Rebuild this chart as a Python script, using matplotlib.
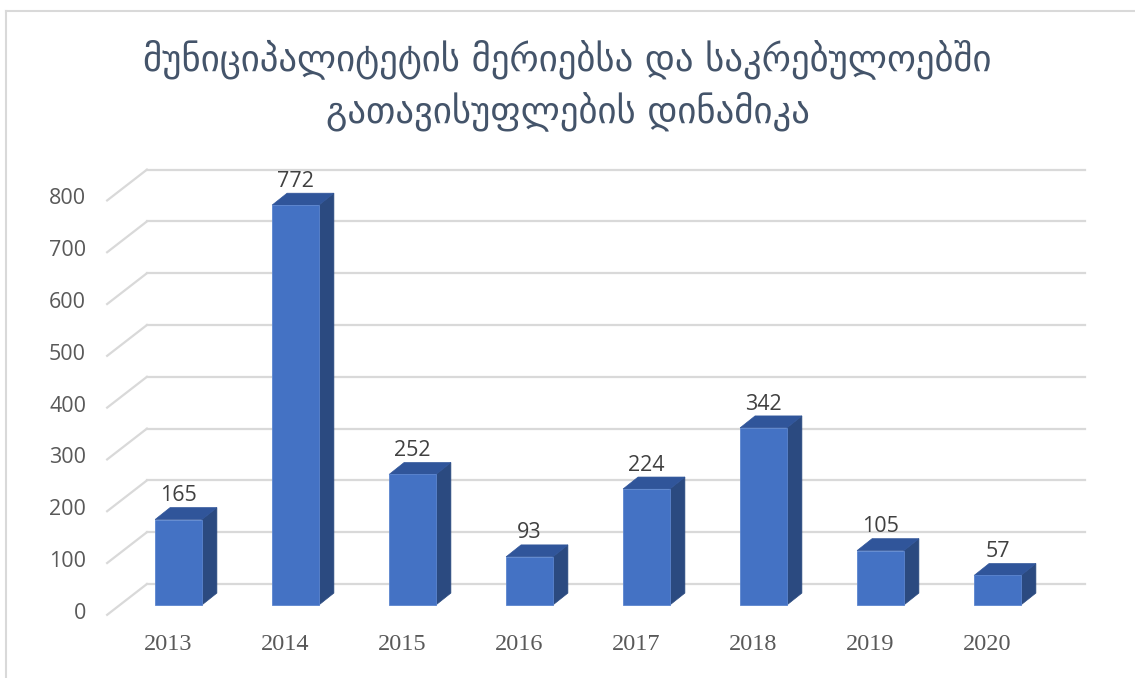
import matplotlib.pyplot as plt
from matplotlib.patches import Polygon
from matplotlib.lines import Line2D

years = ['2013', '2014', '2015', '2016', '2017', '2018', '2019', '2020']
values = [165, 772, 252, 93, 224, 342, 105, 57]
yticks = [0, 100, 200, 300, 400, 500, 600, 700, 800]
title = 'მუნიციპალიტეტის მერიებსა და საკრებულოებში\nგათავისუფლების დინამიკა'

# colours
front_c = '#4472C4'
side_c = '#2B4A80'
top_c = '#30559A'
grid_c = '#D9D9D9'

# fake 3d geometry (category units / value units)
bar_w = 0.4
dx, dy = 0.128, 23        # bar depth
wall_dy = 40.5            # back wall offset from bar plane
front_dx, front_dy = -0.61, -19  # front floor edge offset

fig = plt.figure(figsize=(11.35, 6.78), dpi=100)
ax = fig.add_axes([100 / 1135, 48 / 678, 1000 / 1135, 480 / 678])
ax.set_xlim(-0.671, 7.876)
ax.set_ylim(-48.3, 878.4)
ax.axis('off')

# gridlines: back wall + diagonal on the left side wall
for v in yticks:
    ax.plot([front_dx, -0.27], [v + front_dy, v + wall_dy], color=grid_c, lw=1.6, zorder=1)
    ax.plot([-0.27, 7.75], [v + wall_dy, v + wall_dy], color=grid_c, lw=1.6, zorder=1)
    ax.text(-0.79, v - 16, str(v), ha='right', va='center', fontsize=15.5,
            family='Open Sans', color='#595959')

# bars
for i, v in enumerate(values):
    x0, x1 = i - bar_w / 2, i + bar_w / 2
    ax.bar(i, v, width=bar_w, color=front_c, edgecolor='#5B85CF', linewidth=0.6, zorder=3)
    side = Polygon([(x1, 0), (x1 + dx, dy), (x1 + dx, v + dy), (x1, v)],
                   closed=True, facecolor=side_c, edgecolor=side_c, lw=0.5, zorder=2)
    top = Polygon([(x0, v), (x0 + dx, v + dy), (x1 + dx, v + dy), (x1, v)],
                  closed=True, facecolor=top_c, edgecolor=top_c, lw=0.5, zorder=2)
    ax.add_patch(side)
    ax.add_patch(top)
    ax.text(i, v + 46, str(v), ha='center', va='center', fontsize=15.5,
            family='Open Sans', color='#404040', zorder=4)
    ax.text(i - 0.09, -77, years[i], ha='center', va='center', fontsize=17.5,
            family='Liberation Serif', color='#595959')

fig.text(0.5, 1 - 85 / 678, title, ha='center', va='center', fontsize=26.5,
         color='#44546A', linespacing=1.4, family='DejaVu Sans')

# chart border (top and left visible)
fig.add_artist(Line2D([6 / 1135, 1], [1 - 11 / 678, 1 - 11 / 678], color=grid_c, lw=1.5))
fig.add_artist(Line2D([6 / 1135, 6 / 1135], [0, 1 - 11 / 678], color=grid_c, lw=1.5))

fig.savefig('out.png', dpi=100)
